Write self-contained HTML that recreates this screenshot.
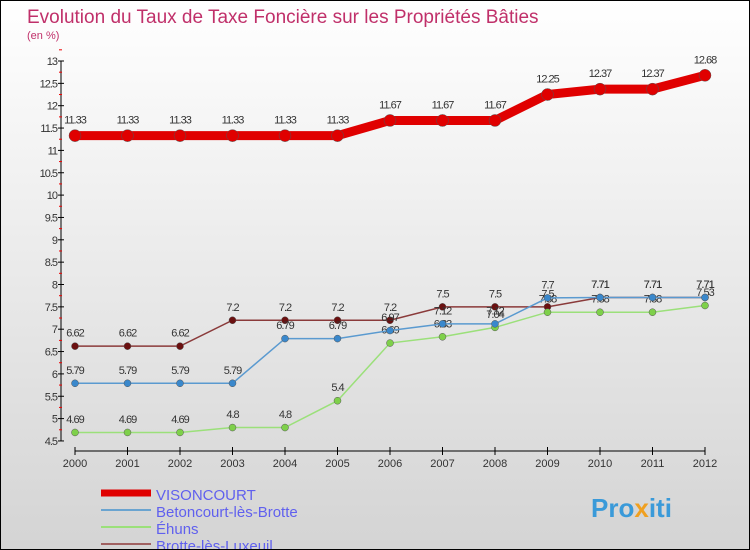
<!DOCTYPE html>
<html><head><meta charset="utf-8"><style>
body{margin:0}
#c{width:748px;height:548px;border:1px solid #000;background:linear-gradient(#fff,#d4d4d4);position:relative;font-family:"Liberation Sans",sans-serif}
</style></head><body>
<div id="c">
<svg id="s" width="748" height="548" style="position:absolute;left:0;top:0" font-family="Liberation Sans, sans-serif">
<text x="26" y="22" font-size="19" fill="#c0306a">Evolution du Taux de Taxe Foncière sur les Propriétés Bâties</text>
<text x="26" y="38" font-size="11" fill="#c0306a">(en %)</text>
<g id="g"></g>
<text x="590" y="516" font-size="26" font-weight="bold" fill="#3a9ad9">Pro<tspan fill="#f0a020">x</tspan>iti</text>
</svg>
</div>
<script>
const years=[2000,2001,2002,2003,2004,2005,2006,2007,2008,2009,2010,2011,2012];
const yTicks=[4.5,5,5.5,6,6.5,7,7.5,8,8.5,9,9.5,10,10.5,11,11.5,12,12.5,13];
const visoncourt=[11.33,11.33,11.33,11.33,11.33,11.33,11.67,11.67,11.67,12.25,12.37,12.37,12.68];
const betoncourt=[5.79,5.79,5.79,5.79,6.79,6.79,6.97,7.12,7.12,7.7,7.71,7.71,7.71];
const ehuns=[4.69,4.69,4.69,4.8,4.8,5.4,6.69,6.83,7.04,7.38,7.38,7.38,7.53];
const brotte=[6.62,6.62,6.62,7.2,7.2,7.2,7.2,7.5,7.5,7.5,7.71,7.71,7.71];
const names=["VISONCOURT","Betoncourt-lès-Brotte","Éhuns","Brotte-lès-Luxeuil"];
const NS="http://www.w3.org/2000/svg",g=document.getElementById('g');
const X=i=>74+i*52.5, Y=v=>60+(13-v)*44.7;
function el(t,a,p){const e=document.createElementNS(NS,t);for(const k in a)e.setAttribute(k,a[k]);(p||g).appendChild(e);return e;}
let ax=el('line',{x1:60,y1:Y(13),x2:60,y2:Y(4.5),stroke:'#000'});


yTicks.forEach(v=>{el('line',{x1:57,x2:63,y1:Y(v),y2:Y(v),stroke:'#000'});
el('line',{x1:58,x2:61,y1:Y(v+0.25),y2:Y(v+0.25),stroke:'#e00'});
let t=el('text',{x:56,y:Y(v)+4,'font-size':11,fill:'#333','text-anchor':'end','letter-spacing':'-1'});t.textContent=v;

});
let xa=el('line',{x1:X(0),x2:X(12),y1:450,y2:450,stroke:'#000'});


years.forEach((y,i)=>{el('line',{x1:X(i),x2:X(i),y1:446,y2:454,stroke:'#000'});
let t=el('text',{x:X(i),y:466,'font-size':11,fill:'#333','text-anchor':'middle'});t.textContent=y;

});
function series(d,col,w,r,fill,nm){
let p=el('polyline',{points:d.map((v,i)=>X(i)+','+Y(v)).join(' '),fill:'none',stroke:col,'stroke-width':w});


d.forEach((v,i)=>{let c=el('circle',{cx:X(i),cy:Y(v),r:r,fill:fill,stroke:'#555','stroke-width':0.5});


let t=el('text',{x:X(i),y:Y(v)-(r+6),'font-size':11,fill:'#333','text-anchor':'middle','letter-spacing':'-1'});t.textContent=v;

});}
series(brotte,'#8a3a3a',1.5,3.5,'#6b1010','brotte');
series(ehuns,'#9be07a',1.5,3.5,'#7ed04a','ehuns');
series(betoncourt,'#5a9ad0',1.5,3.5,'#3a88cc','betoncourt');
series(visoncourt,'#e00000',9,6,'#e00000','visoncourt');
const lc=['#e00000','#6aa4d0','#9be07a','#a06060'],lw=[7,2,2,2];
names.forEach((n,i)=>{let y=492+i*17;
let l=el('line',{x1:100,x2:150,y1:y,y2:y,stroke:lc[i],'stroke-width':lw[i]});


let t=el('text',{x:155,y:y+7,'font-size':15,fill:'#6060ee'});t.textContent=n;

});
</script>
</body></html>
